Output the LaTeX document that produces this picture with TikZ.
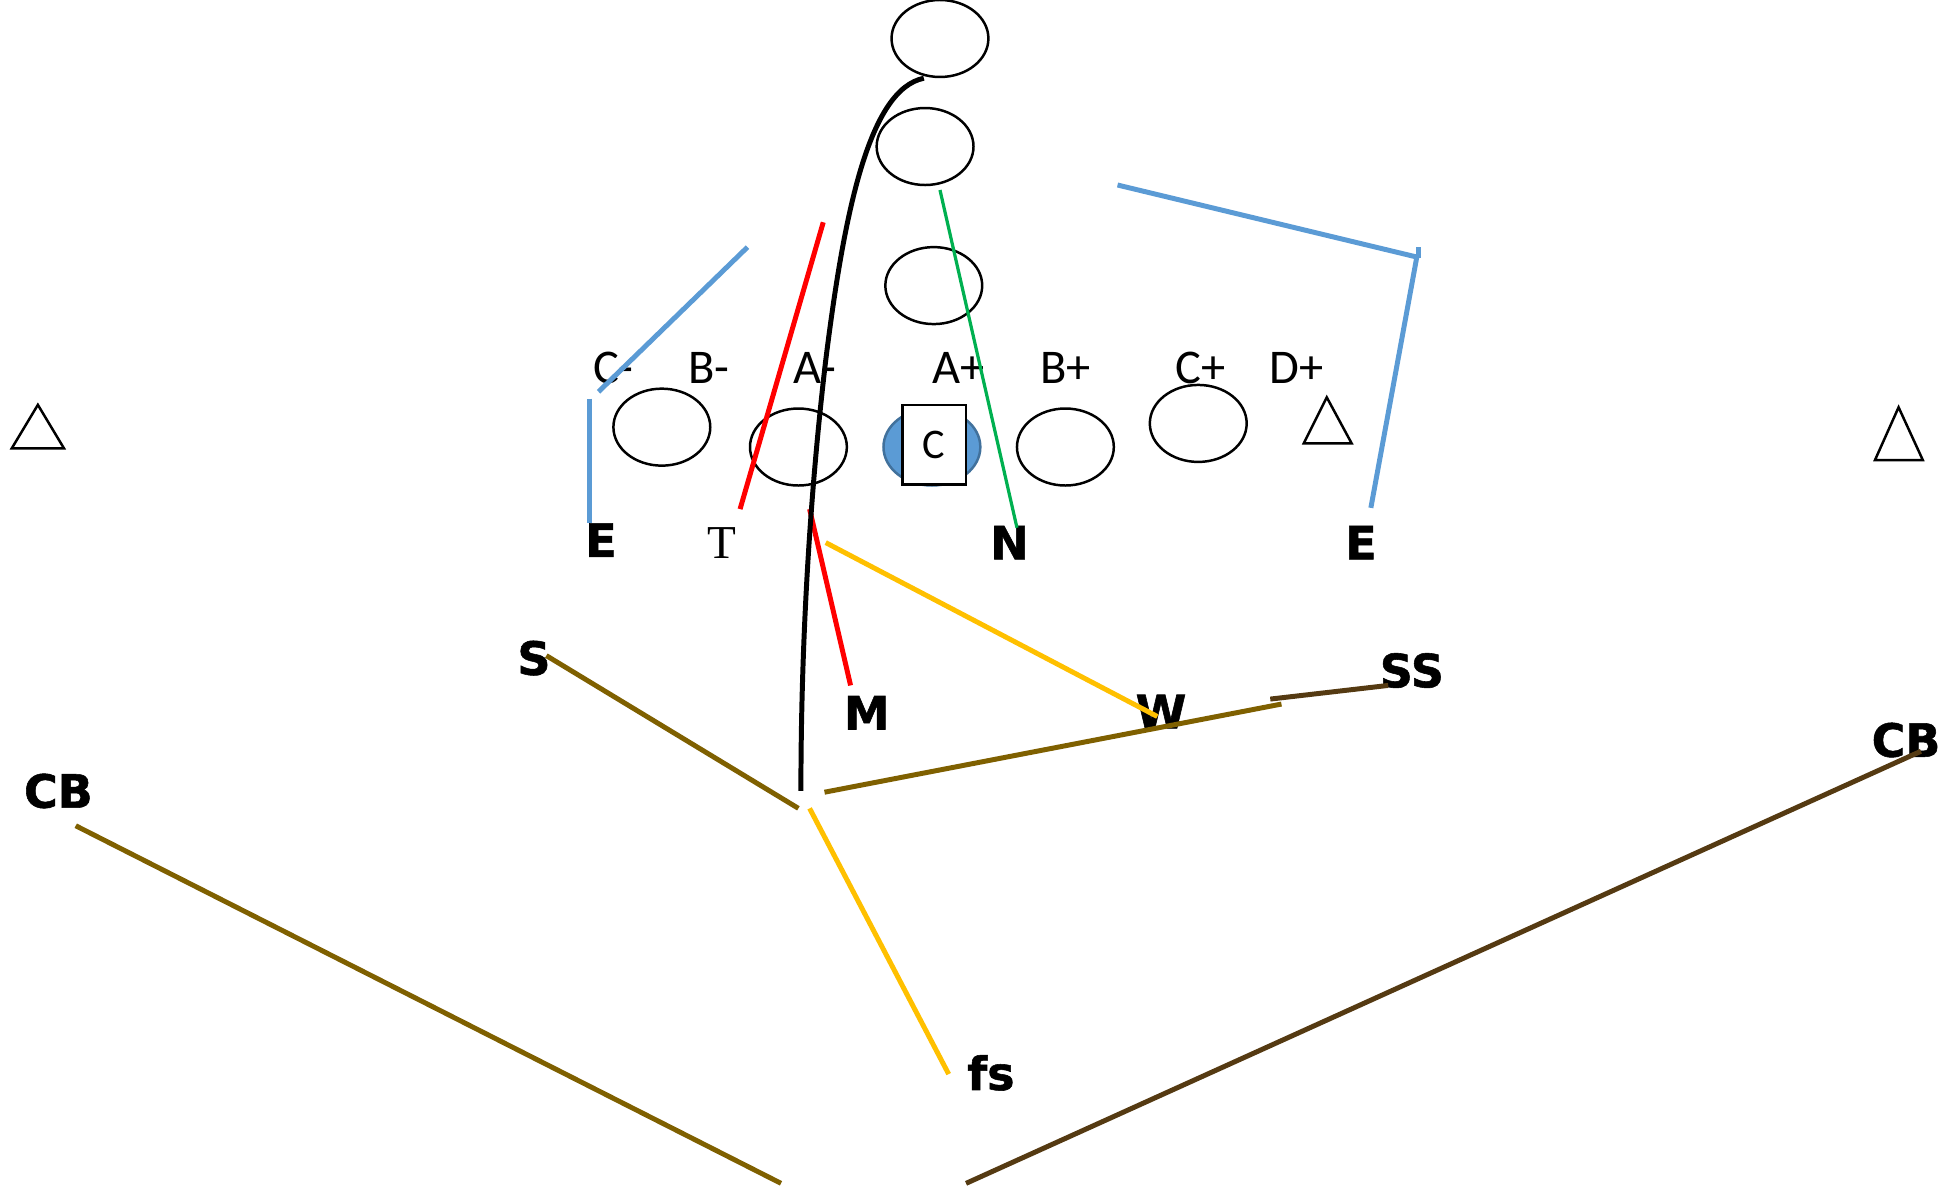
\documentclass[tikz,border=0pt]{standalone}
\usepackage{fontspec}
\setmainfont{Carlito}
\newfontfamily\plfont{DejaVu Sans Bold}[FakeBold=1.2]
\newfontfamily\tmfont{Liberation Serif}
\usetikzlibrary{shapes.geometric}
\definecolor{blueL}{HTML}{5B9BD5}
\definecolor{blueD}{HTML}{41719C}
\definecolor{redL}{HTML}{FF0000}
\definecolor{greenL}{HTML}{00B050}
\definecolor{yellowL}{HTML}{FFC000}
\definecolor{oliveL}{HTML}{7F6000}
\definecolor{brownL}{HTML}{553A12}
\begin{document}
\begin{tikzpicture}[x=0.5pt,y=-0.5pt,
  gapl/.style={font=\fontsize{19.5}{21}\selectfont, inner sep=0pt},
  plyr/.style={font=\plfont\bfseries\fontsize{18.5}{20}\selectfont, inner sep=0pt},
  oval/.style={draw, ellipse, line width=1pt, minimum width=39pt, minimum height=31pt, inner sep=0pt},
  tri/.style={draw, line width=1pt, line join=miter},
  bl/.style={draw=blueL, line width=2pt},
  rd/.style={draw=redL, line width=2pt},
  gr/.style={draw=greenL, line width=1.3pt},
  yl/.style={draw=yellowL, line width=2pt},
  ol/.style={draw=oliveL, line width=2pt},
  br/.style={draw=brownL, line width=2pt}]
\useasboundingbox (0,0) rectangle (1568,957.6);

% backfield ovals
\node[oval] (q1) at (757,31) {};
\node[oval] (q2) at (745,118) {};
\node[oval] (q3) at (752,230) {};
% line ovals
\node[oval] (l1) at (533,344) {};
\node[oval] (l2) at (643,360) {};
\node[oval, fill=blueL, draw=blueD] (ctr) at (750.5,360) {};
\node[draw, fill=white, line width=1pt, minimum width=25.5pt, minimum height=32pt, inner sep=0pt,
      font=\fontsize{17}{18}\selectfont] (cbox) at (752.3,358.3) {C};
\node[oval] (r1) at (858,360) {};
\node[oval] (r2) at (965,341) {};

% triangles
\draw[tri] (30.5,326) -- (51.5,361) -- (9.5,361) -- cycle;
\draw[tri] (1068.5,320) -- (1088.5,357) -- (1050,357) -- cycle;
\draw[tri] (1529,328) -- (1548.5,370.5) -- (1510,370.5) -- cycle;

% gap labels
\node[gapl] (gCm) at (494,296) {C-};
\node[gapl] (gBm) at (571,296) {B-};
\node[gapl] (gAm) at (656,296) {A-};
\node[gapl] (gAp) at (772,296) {A+};
\node[gapl] (gBp) at (858,296) {B+};
\node[gapl] (gCp) at (967,296) {C+};
\node[gapl] (gDp) at (1044,296) {D+};

% player labels
\node[plyr] (pE1) at (484,435) {E};
\node[inner sep=0pt, font=\tmfont\fontsize{19}{20}\selectfont] (pT) at (581,437) {T};
\node[plyr] (pN) at (813,437) {N};
\node[plyr] (pE2) at (1096,437) {E};
\node[plyr] (pS) at (430,530) {S};
\node[plyr] (pM) at (698,574) {M};
\node[plyr] (pW) at (935,573) {W};
\node[plyr] (pSS) at (1137,540) {SS};
\node[plyr] (pCB1) at (47,637) {CB};
\node[plyr] (pCB2) at (1535,596) {CB};
\node[plyr] (pfs) at (798,864) {fs};

% coordinates
\coordinate (b1a) at (482,315.5); \coordinate (b1b) at (602,199);
\coordinate (b2a) at (475,321);   \coordinate (b2b) at (475,421);
\coordinate (b3a) at (900,149);   \coordinate (b3b) at (1141,207);
\coordinate (b3c) at (1104,409);
\coordinate (tk1) at (1142,199);  \coordinate (tk2) at (1142,208);
\coordinate (r1a) at (596,410);   \coordinate (r1b) at (663,179);
\coordinate (r2a) at (652,410);   \coordinate (r2b) at (685,552);
\coordinate (g1a) at (757,153);   \coordinate (g1b) at (819,425);
\coordinate (y1a) at (665,437);   \coordinate (y1b) at (932,577);
\coordinate (y2a) at (652,651);   \coordinate (y2b) at (764,865);
\coordinate (o1a) at (440,528);   \coordinate (o1b) at (643,651);
\coordinate (o2a) at (664,638);   \coordinate (o2b) at (1032,567);
\coordinate (o3a) at (61,665);    \coordinate (o3b) at (629,953);
\coordinate (d1a) at (1023,563);  \coordinate (d1b) at (1118,552);
\coordinate (d2a) at (778,953);   \coordinate (d2b) at (1547,605);
\coordinate (k0) at (744,63);     \coordinate (k1) at (665,290);
\coordinate (k2) at (645,637);

% connectors
\draw[bl] (b1a) -- (b1b);
\draw[bl] (b2a) -- (b2b);
\draw[bl] (b3a) -- (b3b);
\draw[bl] (b3b) -- (b3c);
\draw[bl] (tk1) -- (tk2);
\draw[rd] (r1a) -- (r1b);
\draw[rd] (r2a) -- (r2b);
\draw[gr] (g1a) -- (g1b);
\draw[line width=2pt] (k0) .. controls (700,72) and (680,170) .. (k1)
      .. controls (652,400) and (645,520) .. (k2);
\draw[yl] (y1a) -- (y1b);
\draw[yl] (y2a) -- (y2b);
\draw[ol] (o1a) -- (o1b);
\draw[ol] (o2a) -- (o2b);
\draw[ol] (o3a) -- (o3b);
\draw[br] (d1a) -- (d1b);
\draw[br] (d2a) -- (d2b);
\end{tikzpicture}
\end{document}
